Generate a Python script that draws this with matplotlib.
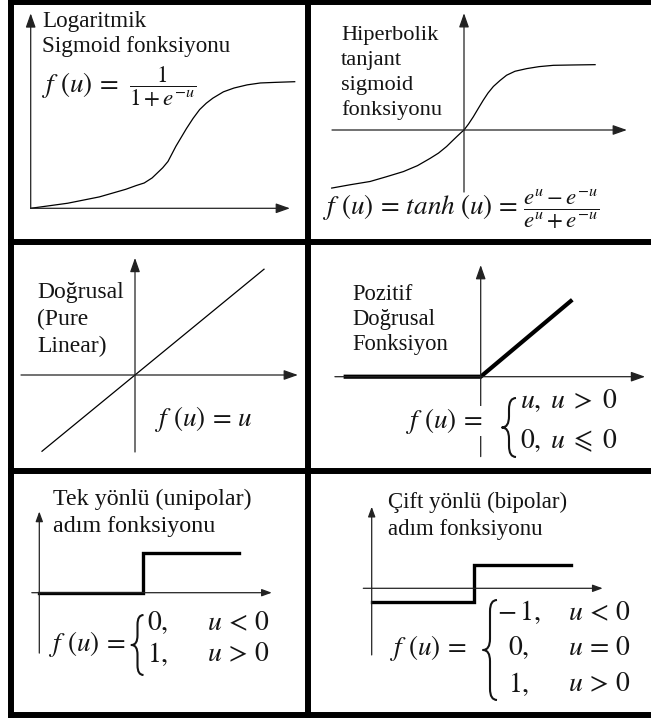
import matplotlib
matplotlib.use('Agg')
import matplotlib.pyplot as plt
from matplotlib.path import Path
from matplotlib.patches import PathPatch

W, H = 651, 720
plt.rcParams['font.family'] = ['Liberation Serif', 'DejaVu Serif']
plt.rcParams['mathtext.fontset'] = 'stix'

# ---- data (panel-local units) ----
sig_u = [0, 0.7, 1.4, 2.0, 2.6, 3.1, 3.6, 4.0, 4.3, 4.6, 4.8, 5.0, 5.2, 5.35, 5.5,
         5.7, 5.9, 6.15, 6.4, 6.65, 6.9, 7.3, 7.7, 8.2, 8.7, 9.3, 10.0]
sig_f = [0, 0.02, 0.04, 0.065, 0.09, 0.12, 0.15, 0.18, 0.20, 0.24, 0.28, 0.32, 0.37,
         0.43, 0.49, 0.56, 0.63, 0.71, 0.78, 0.83, 0.87, 0.92, 0.95, 0.975, 0.99, 0.995, 1.0]
tanh_u = [-4.41, -3.8, -3.13, -2.6, -2.02, -1.55, -1.13, -0.85, -0.58, -0.4, -0.24, -0.1,
          0, 0.15, 0.31, 0.48, 0.64, 0.8, 0.98, 1.2, 1.42, 1.7, 2.09, 2.5, 2.98, 3.6, 4.37]
tanh_f = [-0.88, -0.83, -0.78, -0.71, -0.63, -0.54, -0.43, -0.35, -0.25, -0.17, -0.10, -0.04,
          0, 0.09, 0.20, 0.33, 0.45, 0.56, 0.66, 0.75, 0.83, 0.89, 0.93, 0.96, 0.98, 0.985, 0.99]
lin_u = [-3.1, 4.3]
lin_f = [-3.1, 4.3]
relu_u = [-4.5, 0, 3.0]
relu_f = [0, 0, 3.0]
uni_u = [0, 3.45, 3.45, 6.67]
uni_f = [0, 0, 1, 1]
bi_u = [0, 3.41, 3.41, 6.63]
bi_f = [-0.57, -0.57, 1, 1]

TXT = '#141414'
AX = '#222222'

fig = plt.figure(figsize=(6.51, 7.2), dpi=100)


def panel(ox, oy, sx, sy):
    ax = fig.add_axes([0, 0, 1, 1])
    ax.set_xlim(-ox / sx, (W - ox) / sx)
    ax.set_ylim((oy - H) / sy, oy / sy)
    ax.axis('off')
    return ax


def arrows(ax, x0, x1, y0, y1, hl=0.85, hw=0.3):
    props = dict(arrowstyle=f'-|>,head_length={hl},head_width={hw}', lw=0.9,
                 color=AX, shrinkA=0, shrinkB=0)
    ax.annotate('', xy=(x1, 0), xytext=(x0, 0), arrowprops=props)
    ax.annotate('', xy=(0, y1), xytext=(0, y0), arrowprops=props)


# Panel 1: logistic sigmoid
a1 = panel(30.7, 208.3, 26.4, 126.6)
arrows(a1, 0, 9.82, 0, 1.54)
a1.plot(sig_u, sig_f, color='k', lw=0.9, clip_on=False)

# Panel 2: tanh
a2 = panel(464, 130, 30, 66)
arrows(a2, -4.4, 5.43, -0.94, 1.77)
a2.plot(tanh_u, tanh_f, color='k', lw=0.9, clip_on=False)

# Panel 3: linear
a3 = panel(135, 375, 30, 24.6)
arrows(a3, -3.8, 5.43, -3.13, 4.76)
a3.plot(lin_u, lin_f, color='k', lw=0.9, clip_on=False)

# Panel 4: positive linear
a4 = panel(480.7, 376.7, 30, 25.2)
arrows(a4, -4.86, 5.48, -3.17, 4.43)
a4.plot(relu_u, relu_f, color='k', lw=3.0, solid_joinstyle='miter', clip_on=False)

# Panel 5: unipolar step
a5 = panel(39.3, 592.7, 30, 40)
arrows(a5, -0.25, 7.75, -1.51, 2.03, hl=0.6, hw=0.22)
a5.plot(uni_u, uni_f, color='k', lw=2.4, solid_joinstyle='miter', clip_on=False)

# Panel 6: bipolar step
a6 = panel(371.7, 588.3, 30, 23.3)
arrows(a6, -0.28, 7.7, -2.86, 3.5, hl=0.6, hw=0.22)
a6.plot(bi_u, bi_f, color='k', lw=2.4, solid_joinstyle='miter', clip_on=False)

# ---- overlay: borders and texts ----
ov = fig.add_axes([0, 0, 1, 1])
ov.set_xlim(0, W)
ov.set_ylim(H, 0)
ov.axis('off')

BW = 4.3
for x in (11, 308):
    ov.vlines(x, 0, 717.5, color='k', lw=BW)
for y in (1.5, 241.5, 470.5, 714.5):
    ov.hlines(y, 8, W, color='k', lw=BW)

MS = 20
FU = r'f\hspace{0.35}(u)'


def t(x, y, s, fs=MS, **kw):
    ov.text(x, y, s, fontsize=fs, color=TXT, ha='left', va='baseline', **kw)


def brace(xl, xr, yt, yb, lw=1.5):
    xm = (xl + xr) / 2
    ym = (yt + yb) / 2
    r = (xr - xl) * 0.8
    verts = [(xr, yt), (xm, yt), (xm, yt + r), (xm, ym - r), (xm, ym), (xl, ym),
             (xm, ym), (xm, ym + r), (xm, yb - r), (xm, yb), (xr, yb)]
    codes = [Path.MOVETO, Path.CURVE3, Path.CURVE3, Path.LINETO, Path.CURVE3, Path.CURVE3,
             Path.CURVE3, Path.CURVE3, Path.LINETO, Path.CURVE3, Path.CURVE3]
    ov.add_patch(PathPatch(Path(verts, codes), fill=False, lw=lw, color=TXT,
                           capstyle='butt', joinstyle='round'))


# Panel 1 texts
t(42, 27, 'Logaritmik', fs=16.7)
t(42, 52, 'Sigmoid fonksiyonu', fs=16.7)
t(42, 92, rf'${FU}\,=$', fs=19.5)
t(129, 92, r'$\dfrac{1}{1+e^{-u}}$', fs=16.5)

# Panel 2 texts
for i, s in enumerate(['Hiperbolik', 'tanjant', 'sigmoid', 'fonksiyonu']):
    t(341, 40 + 25 * i, s, fs=16.1)
t(323, 214, rf'${FU}\,=\,tanh\hspace{{0.3}}(u)\,=$', fs=19.5)
t(523, 214, r'$\dfrac{e^{u}-e^{-u}}{e^{u}+e^{-u}}$', fs=16.5)

# Panel 3 texts
for i, s in enumerate(['Doğrusal', '(Pure', 'Linear)']):
    t(37, 298 + 27 * i, s, fs=17)
t(155, 426, rf'${FU}\,=\,u$', fs=19.5)

# Panel 4 texts
for i, s in enumerate(['Pozitif', 'Doğrusal', 'Fonksiyon']):
    t(352, 300 + 25 * i, s, fs=16.3)
t(406, 428, rf'${FU}\,=$', fs=19.5,
  bbox=dict(facecolor='white', edgecolor='none', pad=0))
brace(502, 516, 398, 457)
t(520, 408.3, r'$u,$')
t(550, 408.3, r'$u\;>\;0$')
t(520, 448.3, r'$0,$')
t(550, 448.3, r'$u\;\leqslant\;0$')

# Panel 5 texts
t(53.3, 505, 'Tek yönlü (unipolar)', fs=17.3)
t(53.3, 531.7, 'adım fonksiyonu', fs=17.3)
t(49.3, 651, rf'${FU}\,=$', fs=19.5)
brace(131.5, 143.5, 615, 675)
t(146.7, 630, r'$0,$')
t(207, 630, r'$u\,<\,0$')
t(146.7, 661.7, r'$1,$')
t(207, 661.7, r'$u\,>\,0$')

# Panel 6 texts
t(388.3, 508.3, 'Çift yönlü (bipolar)', fs=16.5)
t(388.3, 535, 'adım fonksiyonu', fs=16.5)
t(390, 655, rf'${FU}\,=$', fs=19.5)
brace(483, 497, 600, 700)
t(496.7, 620, r'$-\,1,$')
t(568.3, 620, r'$u\,<\,0$')
t(508.3, 655, r'$0,$')
t(568.3, 655, r'$u\,=\,0$')
t(508.3, 691.7, r'$1,$')
t(568.3, 691.7, r'$u\,>\,0$')

fig.savefig('out.png', dpi=100)
